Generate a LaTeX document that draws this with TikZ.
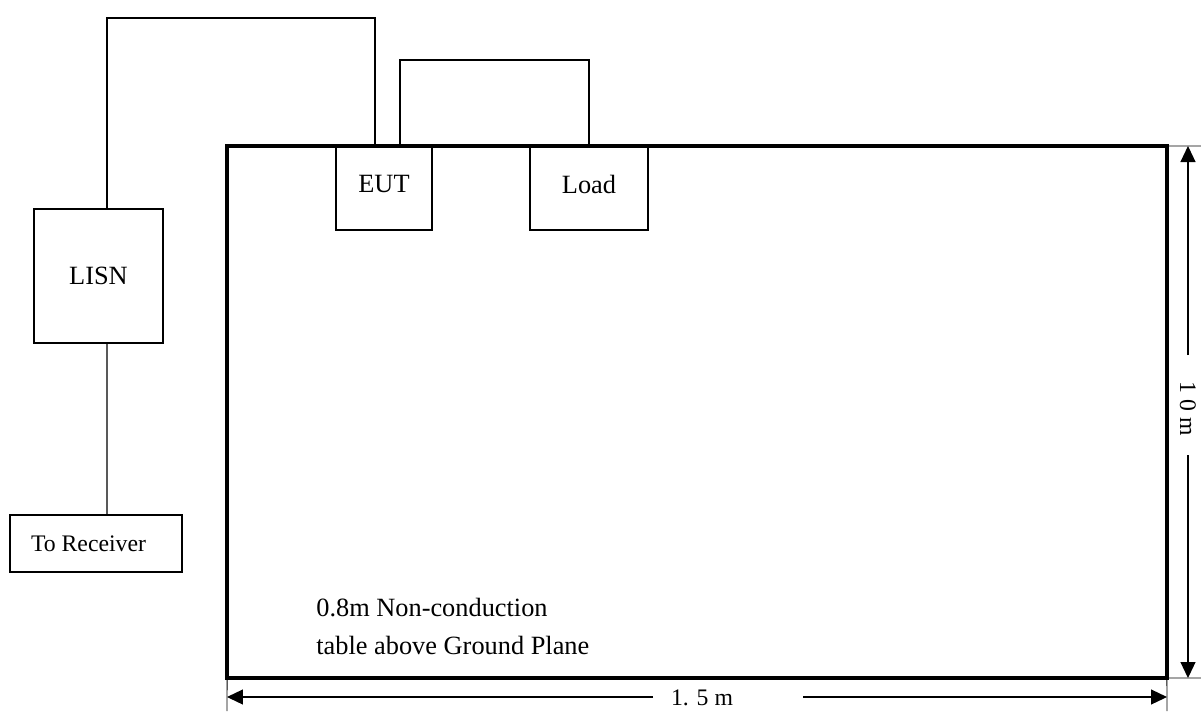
\documentclass[tikz,border=0pt]{standalone}
\usepackage{fontspec}
\setmainfont{Liberation Serif}
\usetikzlibrary{positioning,arrows.meta,calc}

\begin{document}
\begin{tikzpicture}[
    x=0.02cm, y=-0.02cm,
    box/.style={draw, line width=0.8pt, inner sep=0pt, outer sep=0pt,
                font=\fontsize{15}{18}\selectfont, align=center},
    plane/.style={draw, line width=2pt, inner sep=0pt, outer sep=0pt,
                  minimum width=18.8cm, minimum height=10.64cm},
    wire/.style={line width=0.8pt},
    dim/.style={line width=0.7pt, -{Triangle[length=0.32cm,width=0.3cm]}},
    ext/.style={line width=0.5pt},
    note/.style={font=\fontsize{15}{18}\selectfont, anchor=west, inner sep=0pt},
    small/.style={font=\fontsize{13.5}{16}\selectfont, inner sep=1pt}
]
\useasboundingbox (0,0) rectangle (1201,711);

% ============================
% Table and boxes
% ============================
\node[plane] (plane) at (697,412) {};
\node[box, minimum width=1.92cm, minimum height=1.68cm] (eut) at (384,188) {\raisebox{0.15cm}{EUT}};
\node[box, minimum width=2.36cm, minimum height=1.68cm] (load) at (589,188) {\raisebox{0.15cm}{Load}};
\node[box, minimum width=2.58cm, minimum height=2.68cm] (lisn) at (98.5,276) {\raisebox{-0.2cm}{LISN}};
\node[box, minimum width=3.44cm, minimum height=1.14cm,
      font=\fontsize{13.5}{16}\selectfont] (rx) at (96,543.5) {\hspace*{-0.3cm}To Receiver};

% Text on table
\node[note] (t1) at (316,608) {0.8m Non-conduction};
\node[note] (t2) at (316,645) {table above Ground Plane};

% ============================
% Cables
% ============================
\coordinate (eutin) at (375,146);
\coordinate (eutout) at (400,146);
\draw[wire] ([xshift=0.17cm]lisn.north) -- ++(0,-191) -| (eutin);
\draw[wire] (eutout) -- ++(0,-86) -| (load.north);
\draw[wire] ([xshift=0.17cm]lisn.south) -- ([xshift=0.22cm]rx.north);

% ============================
% Dimensions
% ============================
% Extension lines
\draw[ext] (plane.north east) -- (1201,146);
\draw[ext] (plane.south east) -- (1201,678);
\draw[ext] (plane.south west) -- (227,711);
\draw[ext] (plane.south east) -- (1167,711);
% Height
\node[small, rotate=-90] (hlabel) at (1188,409) {1 0 m};
\coordinate (htop) at (1188,146);
\coordinate (hbot) at (1188,678);
\coordinate (hgap1) at (1188,355);
\coordinate (hgap2) at (1188,455);
\draw[dim] (hgap1) -- (htop);
\draw[dim] (hgap2) -- (hbot);
% Width
\node[small] (wlabel) at (702,698) {1. 5 m};
\coordinate (wleft) at (227,697);
\coordinate (wright) at (1167,697);
\coordinate (wgap1) at (653,697);
\coordinate (wgap2) at (803,697);
\draw[dim] (wgap1) -- (wleft);
\draw[dim] (wgap2) -- (wright);

\end{tikzpicture}
\end{document}
